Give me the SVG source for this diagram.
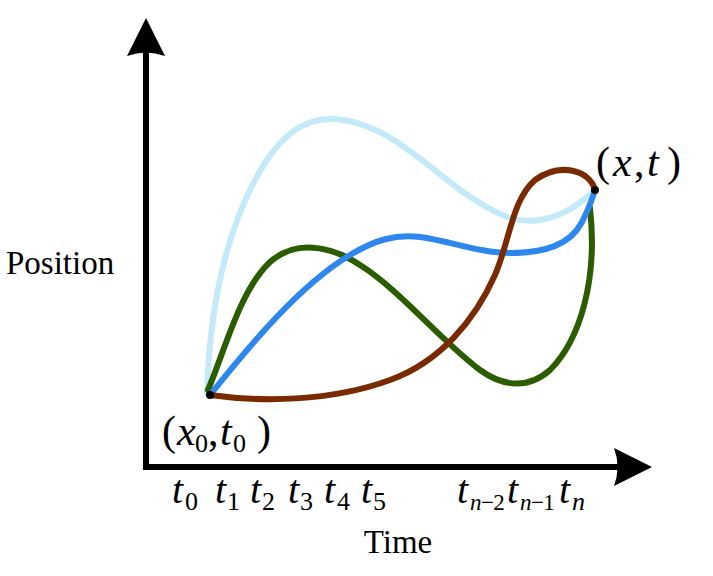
<svg xmlns="http://www.w3.org/2000/svg" width="713" height="576" viewBox="0 0 713 576">
<style>
.curve{fill:none;stroke-width:6;stroke-linecap:round}
.lbl{font-family:"Liberation Serif","Times New Roman",serif;fill:#000}
.it{font-style:italic}
.sub{font-size:26px}
.subn{font-size:23px;letter-spacing:-0.6px}
.axis{stroke:#000;stroke-width:6;fill:none}
</style>
<rect width="713" height="576" fill="#fff"/>
<g id="axes">
<line class="axis" x1="146" y1="470" x2="146" y2="48"/>
<path d="M146,18 L165,56 Q146,49 127,56 Z" fill="#000"/>
<line class="axis" x1="143" y1="467" x2="625" y2="467"/>
<path d="M652,467 L614,486 Q621,467 614,448 Z" fill="#000"/>
</g>
<g id="connectors">
<path class="curve" stroke="#c4eafa" d="M207,393 C209,330 218,250 255,180 C280,133 305,119 330,119 C380,119 420,160 460,190 C495,214 515,224 540,220 C565,216 582,202 595,190"/>
<path class="curve" stroke="#2b5c00" d="M208,390 C225,350 240,290 270,262 C295,240 330,245 360,265 C400,290 440,340 480,370 C505,388 530,388 550,370 C580,340 598,280 590,208"/>
<path class="curve" stroke="#2e86ef" d="M210,395 C250,345 300,285 350,255 C375,240 395,234 420,237 C450,241 480,253 510,253 C545,253 570,245 582,222 C588,210 592,200 595,190"/>
<path class="curve" stroke="#7a2a00" d="M210,395 C260,402 330,402 390,380 C440,362 475,320 495,275 C510,240 512,200 535,180 C560,162 590,170 595,190"/>
</g>
<g id="start">
<circle cx="210" cy="395" r="4" fill="#000"/>
<text class="lbl" font-size="42" y="445"><tspan x="162">(</tspan><tspan class="it" x="177">x</tspan><tspan class="sub" x="195" y="452">0</tspan><tspan x="208" y="445">,</tspan><tspan class="it" x="220">t</tspan><tspan class="sub" x="233" y="452">0</tspan><tspan x="257" y="445">)</tspan></text>
</g>
<g id="end">
<circle cx="595" cy="190" r="4" fill="#000"/>
<text class="lbl" font-size="42" y="176"><tspan x="596">(</tspan><tspan class="it" x="613">x</tspan><tspan x="634">,</tspan><tspan class="it" x="647">t</tspan><tspan x="667">)</tspan></text>
</g>
<g id="ylabel"><text class="lbl" font-size="33" x="6" y="274">Position</text></g>
<g id="xlabel"><text class="lbl" font-size="33" x="398" y="553" text-anchor="middle">Time</text></g>
<g id="ticks" font-size="40">
<text class="lbl" y="503"><tspan class="it" x="172">t</tspan><tspan class="sub" x="185" y="510">0</tspan></text>
<text class="lbl" y="503"><tspan class="it" x="215">t</tspan><tspan class="sub" x="227" y="510">1</tspan></text>
<text class="lbl" y="503"><tspan class="it" x="250">t</tspan><tspan class="sub" x="262" y="510">2</tspan></text>
<text class="lbl" y="503"><tspan class="it" x="288">t</tspan><tspan class="sub" x="300" y="510">3</tspan></text>
<text class="lbl" y="503"><tspan class="it" x="324">t</tspan><tspan class="sub" x="337" y="510">4</tspan></text>
<text class="lbl" y="503"><tspan class="it" x="361">t</tspan><tspan class="sub" x="373" y="510">5</tspan></text>
<text class="lbl" y="503"><tspan class="it" x="457">t</tspan><tspan class="subn" x="470" y="510"><tspan class="it">n</tspan>−2</tspan></text>
<text class="lbl" y="503"><tspan class="it" x="507">t</tspan><tspan class="subn" x="520" y="510"><tspan class="it">n</tspan>−1</tspan></text>
<text class="lbl" y="503"><tspan class="it" x="559">t</tspan><tspan class="sub it" x="572" y="510">n</tspan></text>
</g>
</svg>
